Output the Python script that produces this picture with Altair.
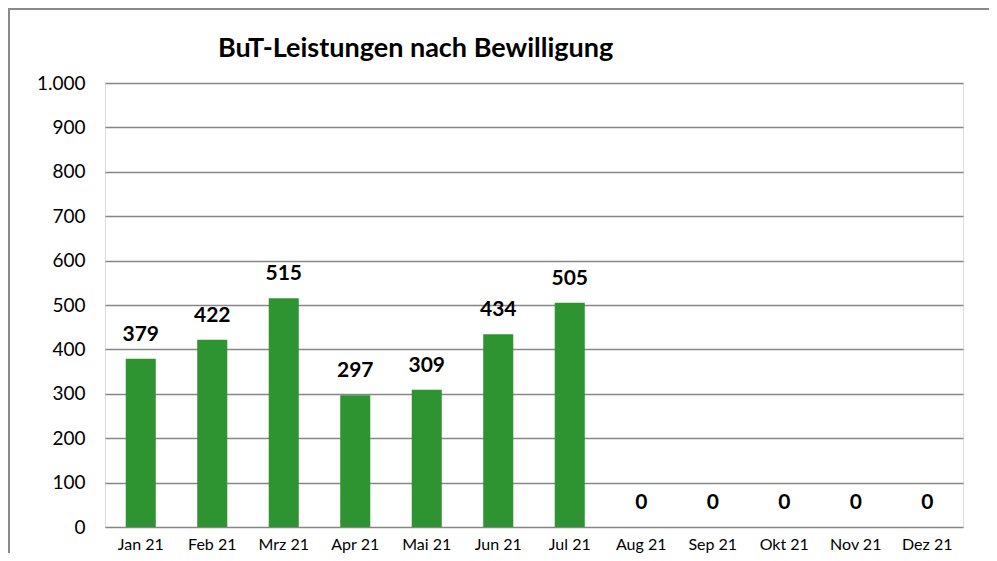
import altair as alt
import pandas as pd

months = ["Jan 21", "Feb 21", "Mrz 21", "Apr 21", "Mai 21", "Jun 21",
          "Jul 21", "Aug 21", "Sep 21", "Okt 21", "Nov 21", "Dez 21"]
values = [379, 422, 515, 297, 309, 434, 505, 0, 0, 0, 0, 0]
title_text = ["BuT-Leistungen nach Bewilligung"]

df = pd.DataFrame({"Monat": months, "Wert": values})

FONT = "Lato"
W, H = 858, 444

x_enc = alt.X("Monat:N", sort=months, title=None,
              scale=alt.Scale(paddingInner=0.58, paddingOuter=0.29),
              axis=alt.Axis(labelAngle=0, ticks=False, domain=False,
                            labelPadding=9, labelFontSize=16, labelFont=FONT,
                            labelColor="#000000"))
y_enc = alt.Y("Wert:Q", title=None,
              scale=alt.Scale(domain=[0, 1000], nice=False),
              axis=alt.Axis(values=list(range(0, 1001, 100)), ticks=False, domain=False,
                            labelPadding=20, labelFontSize=19, labelFont=FONT,
                            labelColor="#000000", gridColor="#868686", gridWidth=1.6,
                            labelExpr="replace(format(datum.value, ','), ',', '.')"))

bars = alt.Chart(df).mark_bar(color="#2e9331").encode(x=x_enc, y=y_enc)

labels = alt.Chart(df).mark_text(font=FONT, fontSize=21, fontWeight="bold",
                                 color="#000000", baseline="middle", dy=-24).encode(
    x=alt.X("Monat:N", sort=months), y=alt.Y("Wert:Q"), text=alt.Text("Wert:Q"))

title_df = pd.DataFrame({"t": title_text})
title = alt.Chart(title_df).mark_text(font=FONT, fontSize=27, fontWeight="bold",
                                      color="#000000", align="left",
                                      baseline="alphabetic").encode(
    x=alt.value(113), y=alt.value(-26), text="t:N")

frame_df = pd.DataFrame({"k": [0]})
top_line = alt.Chart(frame_df).mark_rule(color="#8a8a8a", strokeWidth=2).encode(
    x=alt.value(-97), x2=alt.value(W + 26), y=alt.value(-74))
left_line = alt.Chart(frame_df).mark_rule(color="#8a8a8a", strokeWidth=2).encode(
    x=alt.value(-96), y=alt.value(-74), y2=alt.value(H + 30))

chart = alt.layer(bars, labels, title, top_line, left_line).properties(
    width=W, height=H,
    autosize=alt.AutoSizeParams(type="none"),
    padding={"left": 97, "top": 75, "right": 26, "bottom": 26},
).configure_view(stroke=None).configure(background="white")

chart.save("out.html", embed_options={"renderer": "svg", "actions": False})
